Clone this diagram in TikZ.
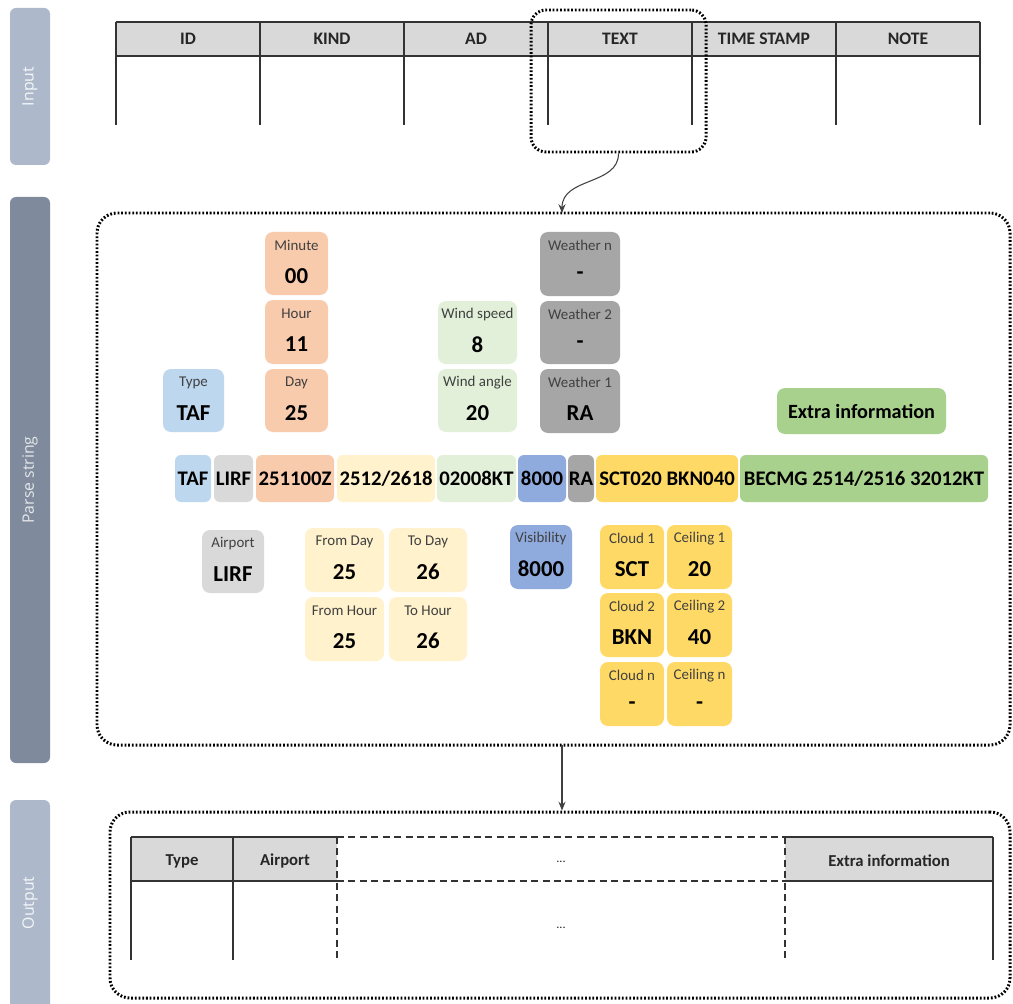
\documentclass[tikz,border=0pt]{standalone}
\usepackage{fontspec}
\setmainfont{Carlito}
\newfontfamily\sidefont{Open Sans}
\usetikzlibrary{fit,calc,arrows.meta}
\definecolor{blueC}{HTML}{BDD7EE}
\definecolor{grayL}{HTML}{D9D9D9}
\definecolor{orangeC}{HTML}{F8CBAD}
\definecolor{yellowL}{HTML}{FFF2CC}
\definecolor{greenL}{HTML}{E2F0D9}
\definecolor{blueD}{HTML}{8FAADC}
\definecolor{grayD}{HTML}{A6A6A6}
\definecolor{yellowD}{HTML}{FFD966}
\definecolor{greenD}{HTML}{A9D18E}
\definecolor{barL}{HTML}{ADB9CA}
\definecolor{barD}{HTML}{7F8B9C}
\definecolor{hdrgray}{HTML}{D9D9D9}
\definecolor{lblgray}{HTML}{404040}
\tikzset{
  cardbox/.style={rounded corners=0.16cm, inner sep=0pt, draw=none},
  lbl/.style={font=\fontsize{8.5}{10}\selectfont, text=lblgray, inner sep=0pt},
  val/.style={font=\fontsize{13}{15}\selectfont\bfseries, inner sep=0pt},
  seg/.style={rounded corners=0.12cm, inner sep=0pt, draw=none},
  segtxt/.style={inner sep=0pt, font=\fontsize{11.8}{14}\selectfont\bfseries},
  sel/.style={draw=black, line width=1.7pt, dash pattern=on 1pt off 1.1pt, inner sep=0pt},
  sidebar/.style={rounded corners=0.12cm, inner sep=0pt, draw=none},
  sidetxt/.style={font=\sidefont\fontsize{9}{11}\selectfont, text=white!88!barL, inner sep=0pt},
  tline/.style={draw=black!80, line width=0.7pt},
  hline/.style={draw=black!80, line width=1.3pt},
  dline/.style={draw=black!80, line width=0.9pt, dash pattern=on 4pt off 2.5pt},
  thdr/.style={font=\fontsize{10}{12}\selectfont\bfseries, text=black!85, inner sep=0pt},
  conn/.style={draw=black!75, line width=0.6pt, -{Stealth[length=5pt,width=4pt]}},
}
\newcommand\mkcard[8]{%
  \node[cardbox, fill=#6, fit={(#2,#3) (#4,#5)}] (#1) {};
  \node[lbl] (#1-l) at ($(#1.north)+(0,14)$) {#7};
  \node[val] (#1-v) at ($(#1.north)+(0,44)$) {#8};
}
\newcommand\mkseg[7]{%
  \node[seg, fill=#6, fit={(#2,#3) (#4,#5)}] (#1) {};
  \node[segtxt] (#1-t) at (#1.center) {#7};
}
\begin{document}
\begin{tikzpicture}[x=0.02cm,y=-0.02cm]
\useasboundingbox (0,0) rectangle (1013,1003);
\clip (0,0) rectangle (1013,1003);
\fill[white] (0,0) rectangle (1013,1003);

% side bars
\node[sidebar, fill=barL, fit={(10,8) (50,165)}] (barIn) {};
\node[sidetxt, rotate=90] (barIn-t) at (barIn.center) {Input};
\node[sidebar, fill=barD, fit={(10,197) (50,763)}] (barPs) {};
\node[sidetxt, rotate=90, text=white!80!barD] (barPs-t) at (barPs.center) {Parse string};
\node[sidebar, fill=barL, fit={(10,800) (50,1020)}] (barOut) {};
\node[sidetxt, rotate=90] (barOut-t) at (30,903) {Output};

% input table
\fill[hdrgray] (116,22) rectangle (980,56);
\draw[tline] (116,22) -- (980,22);
\draw[hline] (116,56) -- (980,56);
\foreach \x in {116,260,404,548,692,836,980} \draw[tline] (\x,22) -- (\x,125);
\node[thdr] (hID) at (188,39) {ID};
\node[thdr] (hKIND) at (332,39) {KIND};
\node[thdr] (hAD) at (476,39) {AD};
\node[thdr] (hTEXT) at (620,39) {TEXT};
\node[thdr] (hTS) at (764,39) {TIME STAMP};
\node[thdr] (hNOTE) at (908,39) {NOTE};

\node[sel, rounded corners=0.3cm, fit={(531,10) (706,152)}] (textsel) {};

% parse box
\node[sel, rounded corners=0.4cm, fit={(97,213) (1010,745)}] (parsebox) {};
\coordinate (pin) at (562,213);
\draw[conn] (textsel.south) .. controls +(0,32) and +(0,-36) .. (pin);

% upper cards
\mkcard{type}{163}{369}{224}{432}{blueC}{Type}{TAF}
\mkcard{minute}{265}{232}{328}{295}{orangeC}{Minute}{00}
\mkcard{hour}{265}{300}{328}{364}{orangeC}{Hour}{11}
\mkcard{day}{265}{369}{328}{432}{orangeC}{Day}{25}
\mkcard{wspd}{438}{301}{517}{364}{greenL}{Wind speed}{8}
\mkcard{wang}{438}{369}{517}{432}{greenL}{Wind angle}{20}
\mkcard{wxn}{540}{232}{620}{296}{grayD}{Weather n}{-}
\mkcard{wx2}{540}{301}{620}{364}{grayD}{Weather 2}{-}
\mkcard{wx1}{540}{369}{620}{433}{grayD}{Weather 1}{RA}
\node[cardbox, fill=greenD, fit={(777,388) (946,434)}] (extra) {};
\node[inner sep=0pt, font=\fontsize{11.5}{14}\selectfont\bfseries] (extra-t) at (extra.center) {Extra information};

% parse string
\mkseg{sTAF}{175}{455}{211}{502}{blueC}{TAF}
\mkseg{sLIRF}{214}{455}{253}{502}{grayL}{LIRF}
\mkseg{sTime}{256}{455}{334}{502}{orangeC}{251100Z}
\mkseg{sValid}{337}{455}{435}{502}{yellowL}{2512/2618}
\mkseg{sWind}{437}{455}{516}{502}{greenL}{02008KT}
\mkseg{sVis}{518}{455}{566}{502}{blueD}{8000}
\mkseg{sWx}{568}{455}{594}{502}{grayD}{RA}
\mkseg{sCld}{596}{455}{738}{502}{yellowD}{SCT020 BKN040}
\mkseg{sExtra}{740}{455}{988}{502}{greenD}{BECMG 2514/2516 32012KT}

% lower cards
\mkcard{airport}{202}{530}{264}{593}{grayL}{Airport}{LIRF}
\mkcard{fday}{305}{528}{384}{592}{yellowL}{From Day}{25}
\mkcard{tday}{389}{528}{467}{592}{yellowL}{To Day}{26}
\mkcard{fhour}{305}{597}{384}{661}{yellowL}{From Hour}{25}
\mkcard{thour}{389}{597}{467}{661}{yellowL}{To Hour}{26}
\mkcard{vis}{510}{525}{572}{589}{blueD}{Visibility}{8000}
\mkcard{cl1}{600}{525}{664}{589}{yellowD}{Cloud 1}{SCT}
\mkcard{ce1}{667}{525}{732}{589}{yellowD}{Ceiling 1}{20}
\mkcard{cl2}{600}{593}{664}{657}{yellowD}{Cloud 2}{BKN}
\mkcard{ce2}{667}{593}{732}{657}{yellowD}{Ceiling 2}{40}
\mkcard{cln}{600}{662}{664}{726}{yellowD}{Cloud n}{-}
\mkcard{cen}{667}{662}{732}{726}{yellowD}{Ceiling n}{-}

% output
\node[sel, rounded corners=0.4cm, fit={(110,812) (1010,998)}] (outbox) {};
\coordinate (pout) at (562,745);
\draw[conn] (pout) -- (pout |- outbox.north);

\fill[hdrgray] (131,837) rectangle (337,881);
\fill[hdrgray] (785,837) rectangle (993,881);
\draw[hline] (131,837) -- (337,837) (785,837) -- (993,837);
\draw[hline] (131,881) -- (337,881) (785,881) -- (993,881);
\draw[dline] (337,837) -- (785,837) (337,881) -- (785,881);
\draw[tline] (131,837) -- (131,960) (233,837) -- (233,960) (993,837) -- (993,960);
\draw[dline, line width=0.7pt] (337,837) -- (337,960) (785,837) -- (785,960);
\node[thdr, font=\fontsize{9.5}{12}\selectfont\bfseries] (oType) at (182,861) {Type};
\node[thdr, font=\fontsize{9.5}{12}\selectfont\bfseries] (oAirport) at (285,861) {Airport};
\node[thdr, font=\fontsize{7}{8}\selectfont] (oDots) at (561,862) {...};
\node[thdr, font=\fontsize{9.5}{12}\selectfont\bfseries] (oExtra) at (889,861) {Extra information};
\node[thdr, font=\fontsize{7}{8}\selectfont] (oDots2) at (561,928) {...};
\end{tikzpicture}
\end{document}
